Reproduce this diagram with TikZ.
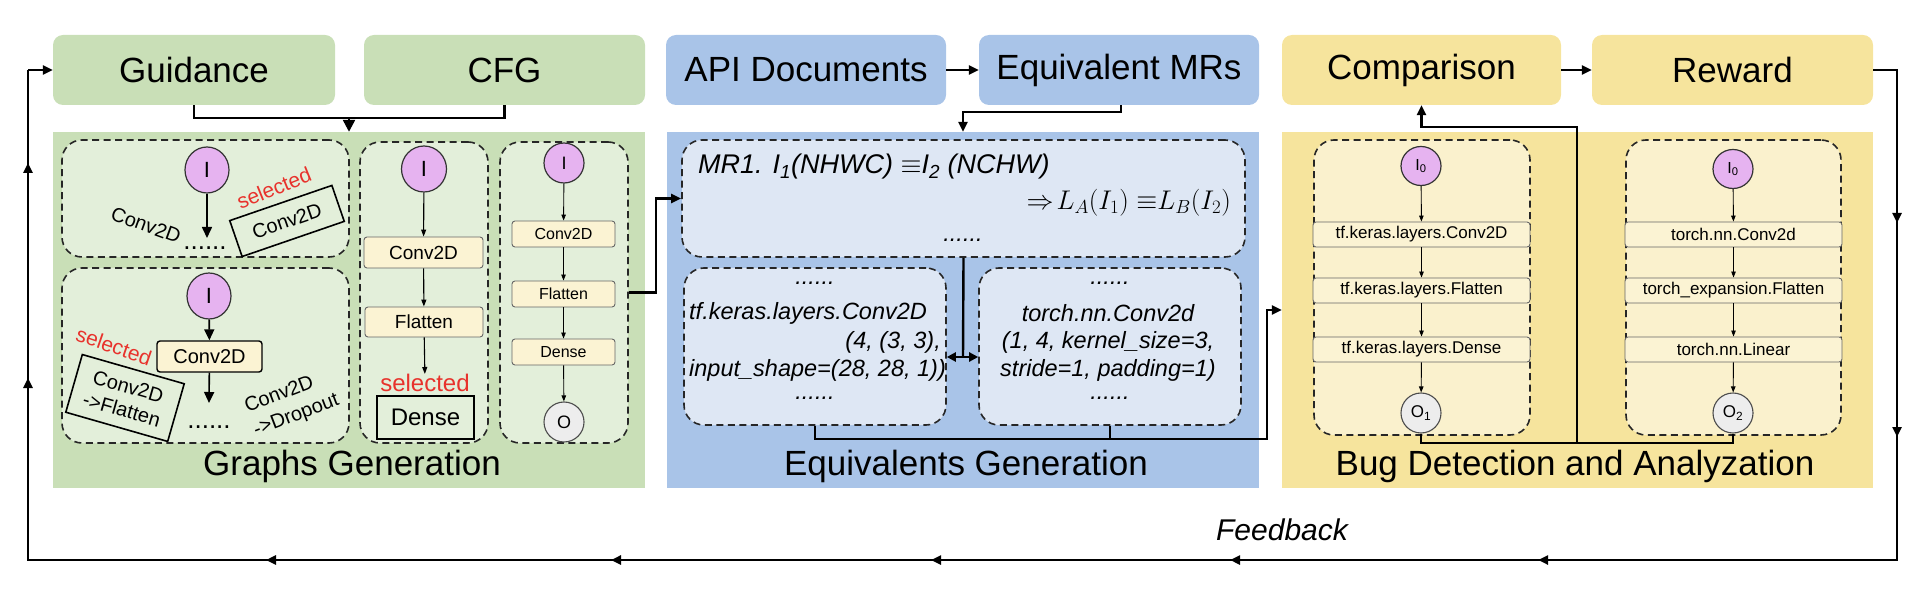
\RequirePackage{fix-cm}
\documentclass[tikz,border=0pt]{standalone}
\usepackage{fontspec}
\setmainfont{Liberation Sans}
\usetikzlibrary{arrows.meta,shapes.geometric}
\definecolor{gbox}{HTML}{C9DFB7}
\definecolor{gin}{HTML}{E3EFDA}
\definecolor{bbox}{HTML}{A9C4E8}
\definecolor{bin}{HTML}{DEE7F4}
\definecolor{ybox}{HTML}{F6E49D}
\definecolor{yin}{HTML}{FAF1CD}
\definecolor{laycol}{HTML}{FBF3D3}
\definecolor{vio}{HTML}{E6B3F0}
\definecolor{ogray}{HTML}{EDEDED}
\definecolor{selred}{HTML}{E8322C}
\newcommand\fsz[2]{\fontsize{#1}{#2}\selectfont}
\begin{document}
\begin{tikzpicture}[x=1pt,y=-1pt,
  topbox/.style={rounded corners=10pt, minimum height=70, inner sep=0, font=\fsz{35}{40}},
  panel/.style={inner sep=0, minimum height=356},
  ptitle/.style={inner sep=0, font=\fsz{35}{40}},
  dbox/.style={draw=black!85, line width=1.6pt, dash pattern=on 7pt off 4.5pt, rounded corners=20pt, inner sep=0},
  lay/.style={draw=black!60, fill=laycol, rounded corners=3pt, line width=0.9pt, inner sep=0},
  layb/.style={draw=black, fill=laycol, rounded corners=3pt, line width=1.4pt, inner sep=0},
  inode/.style={ellipse, draw=black!80, fill=vio, line width=1.2pt, inner sep=0},
  onode/.style={ellipse, draw=black!70, fill=ogray, line width=1.1pt, inner sep=0},
  selbox/.style={draw=black, line width=1.6pt, inner sep=0, font=\fsz{20}{23}},
  seltext/.style={inner sep=0, text=selred, font=\fsz{21}{23}},
  gtext/.style={inner sep=0, font=\fsz{20}{23}},
  dotstext/.style={inner sep=0, font=\fsz{26}{28}},
  codetext/.style={inner sep=0, font=\fsz{23.5}{26}\itshape},
  conn/.style={line width=2.4pt},
  arr/.style={conn, -{Triangle[length=10pt,width=9pt]}},
  garr/.style={line width=1.6pt, -{Triangle[length=11pt,width=10pt]}},
  tarr/.style={line width=1.1pt, -{Triangle[length=7pt,width=5pt]}},
  sarr/.style={line width=0.9pt, -{Triangle[length=6pt,width=4.5pt]}}
]
\useasboundingbox (0,0) rectangle (1929,593);

% ---------- top boxes ----------
\node[topbox, fill=gbox, minimum width=282] (guid) at (194,70) {Guidance};
\node[topbox, fill=gbox, minimum width=281] (cfg) at (504.5,70) {CFG};
\node[topbox, fill=bbox, minimum width=280] (api) at (806,70) {API Documents};
\node[topbox, fill=bbox, minimum width=280] (emr) at (1119,70) {Equivalent MRs};
\node[topbox, fill=ybox, minimum width=279] (comp) at (1421.5,70) {Comparison};
\node[topbox, fill=ybox, minimum width=281] (rew) at (1732.5,70) {Reward};

% ---------- panels ----------
\node[panel, fill=gbox, minimum width=592] (gpanel) at (349,310) {};
\node[panel, fill=bbox, minimum width=592] (bpanel) at (963,310) {};
\node[panel, fill=ybox, minimum width=591] (ypanel) at (1577.5,310) {};
\node[ptitle] (gtitle) at (352,466) {Graphs Generation};
\node[ptitle] (btitle) at (966,466) {Equivalents Generation};
\node[ptitle] (ytitle) at (1575,466) {Bug Detection and Analyzation};

% ---------- graphs generation ----------
\node[dbox, fill=gin, minimum width=287, minimum height=117] (dA) at (205.5,198.5) {};
\node[dbox, fill=gin, minimum width=287, minimum height=175] (dB) at (205.5,355.5) {};
\node[dbox, fill=gin, minimum width=128, minimum height=301] (dC) at (424,292.5) {};
\node[dbox, fill=gin, minimum width=128, minimum height=301] (dD) at (564,292.5) {};

% box A
\node[inode, minimum width=44, minimum height=46, font=\fsz{22}{24}] (iA) at (207,170) {I};
\coordinate (aA) at (207,238);
\draw[garr] (iA) -- (aA);
\node[gtext, rotate=-20] (cA) at (146,225) {Conv2D};
\node[dotstext] (dotA) at (205,248) {......};
\node[selbox, rotate=19, minimum width=108, minimum height=38] (sA) at (287,221) {Conv2D};
\node[seltext, rotate=22] (tA) at (274,188) {selected};

% box B
\node[inode, minimum width=44, minimum height=46, font=\fsz{22}{24}] (iB) at (209,296) {I};
\node[layb, minimum width=105, minimum height=31, font=\fsz{20}{23}] (cB) at (209.5,356.5) {Conv2D};
\draw[garr] (iB) -- (cB);
\coordinate (aB) at (209,403);
\draw[garr] (cB) -- (aB);
\node[seltext, rotate=-19] (tB) at (114,346) {selected};
\node[selbox, rotate=-16, minimum width=106, minimum height=60, align=center, font=\fsz{20}{24}] (sB) at (125,398) {Conv2D\\->Flatten};
\node[dotstext] (dotB) at (209,427) {......};
\node[gtext, rotate=21, align=left, font=\fsz{20}{25}] (dropB) at (292,404) {Conv2D\\->Dropout};

% box C
\node[inode, minimum width=45, minimum height=46, font=\fsz{22}{24}] (iC) at (424,169) {I};
\node[lay, minimum width=119, minimum height=31, font=\fsz{19}{22}] (cC) at (423.5,252.5) {Conv2D};
\node[lay, minimum width=118, minimum height=30, font=\fsz{19}{22}] (fC) at (424,322) {Flatten};
\node[seltext, font=\fsz{24}{26}] (tC) at (425,383) {selected};
\node[selbox, minimum width=97, minimum height=43, font=\fsz{24}{26}] (dnC) at (425.5,417.5) {Dense};
\draw[tarr] (iC) -- (cC);
\draw[tarr] (cC) -- (fC);
\draw[tarr] (fC) -- (tC);

% box D
\node[inode, minimum width=40, minimum height=40, font=\fsz{18}{20}] (iD) at (564,163) {I};
\node[lay, minimum width=103, minimum height=26, font=\fsz{16}{18}] (cD) at (563.5,234) {Conv2D};
\node[lay, minimum width=103, minimum height=26, font=\fsz{16}{18}] (fD) at (563.5,294) {Flatten};
\node[lay, minimum width=103, minimum height=26, font=\fsz{16}{18}] (nD) at (563.5,352) {Dense};
\node[onode, minimum width=40, minimum height=40, font=\fsz{18}{20}] (oD) at (564,422) {O};
\draw[sarr] (iD) -- (cD);
\draw[sarr] (cD) -- (fD);
\draw[sarr] (fD) -- (nD);
\draw[sarr] (nD) -- (oD);

% ---------- equivalents generation ----------
\node[dbox, fill=bin, minimum width=563, minimum height=117] (mr) at (963.5,198.5) {};
\node[inner sep=0, anchor=west, font=\fsz{27}{30}\itshape] (mr1) at (698,167) {MR1. I\textsubscript{1}(NHWC) $\equiv$I\textsubscript{2} (NCHW)};
\node[inner sep=0, anchor=east, font=\fsz{27}{30}] (mr2) at (1231,203) {$\Rightarrow\!L_A(I_1)\;{\equiv}L_B(I_2)$};
\node[codetext] (mrdots) at (963,240) {......};

\node[dbox, fill=bin, minimum width=262, minimum height=157] (dL) at (815,346.5) {};
\node[dbox, fill=bin, minimum width=262, minimum height=157] (dR) at (1110,346.5) {};
\node[codetext] (lt0) at (815,283) {......};
\node[codetext, anchor=west] (lt1) at (689,313) {tf.keras.layers.Conv2D};
\node[codetext, anchor=east] (lt2) at (941,342) {(4, (3, 3),};
\node[codetext, anchor=west] (lt3) at (689,370) {input\_shape=(28, 28, 1))};
\node[codetext] (lt4) at (815,398) {......};
\node[codetext] (rt0) at (1110,283) {......};
\node[codetext] (rt1) at (1108,313) {torch.nn.Conv2d};
\node[codetext] (rt2) at (1108,342) {(1, 4, kernel\_size=3,};
\node[codetext] (rt3) at (1108,370) {stride=1, padding=1)};
\node[codetext] (rt4) at (1110,398) {......};

% ---------- bug detection ----------
\node[dbox, fill=yin, minimum width=216, minimum height=295] (yL) at (1422,287.5) {};
\node[dbox, fill=yin, minimum width=215, minimum height=295] (yR) at (1733.5,287.5) {};
\node[inode, minimum width=40, minimum height=39, font=\fsz{16}{18}] (i0L) at (1421,166) {I\textsubscript{0}};
\node[lay, minimum width=217, minimum height=25, font=\fsz{17}{19}] (l1) at (1421.5,234.5) {tf.keras.layers.Conv2D};
\node[lay, minimum width=217, minimum height=25, font=\fsz{17}{19}] (l2) at (1421.5,290.5) {tf.keras.layers.Flatten};
\node[lay, minimum width=217, minimum height=25, font=\fsz{17}{19}] (l3) at (1421.5,349.5) {tf.keras.layers.Dense};
\node[onode, minimum width=40, minimum height=40, font=\fsz{17}{19}] (o1) at (1421,413) {O\textsubscript{1}};
\node[inode, minimum width=40, minimum height=39, font=\fsz{16}{18}] (i0R) at (1733,169) {I\textsubscript{0}};
\node[lay, minimum width=217, minimum height=25, font=\fsz{17}{19}] (r1) at (1733.5,234.5) {torch.nn.Conv2d};
\node[lay, minimum width=217, minimum height=25, font=\fsz{17}{19}] (r2) at (1733.5,290.5) {torch\_expansion.Flatten};
\node[lay, minimum width=217, minimum height=25, font=\fsz{17}{19}] (r3) at (1733.5,349.5) {torch.nn.Linear};
\node[onode, minimum width=40, minimum height=40, font=\fsz{17}{19}] (o2) at (1733,413) {O\textsubscript{2}};
\draw[sarr] (i0L) -- (l1);
\draw[sarr] (l1) -- (l2);
\draw[sarr] (l2) -- (l3);
\draw[sarr] (l3) -- (o1);
\draw[sarr] (i0R) -- (r1);
\draw[sarr] (r1) -- (r2);
\draw[sarr] (r2) -- (r3);
\draw[sarr] (r3) -- (o2);

% ---------- connectors ----------
\coordinate (gm) at (349,118);
\draw[conn] (guid.south) |- (gm) -| (cfg.south);
\draw[conn, -{Triangle[length=12pt,width=12pt]}] (gm) -- (gpanel.north);

\draw[arr] (dD.east) -- ++(27,0) |- (mr.west);

\draw[arr] (api) -- (emr);
\coordinate (em1) at (1121,112);
\draw[arr] (em1 |- emr.south) -- (em1) -| (bpanel.north);

\coordinate (mrb) at (963,357);
\draw[conn] (mr.south) -- (mrb);
\draw[conn, {Triangle[length=9pt,width=9pt]}-{Triangle[length=9pt,width=9pt]}] (dL.east |- mrb) -- (dR.west |- mrb);

\coordinate (eb) at (815,439);
\coordinate (ec) at (1267,439);
\draw[conn] (dL.south) -- (eb) -| (dR.south);
\draw[arr] (eb) -- (ec) |- (ypanel.west);

\coordinate (ob) at (1421,443);
\coordinate (om) at (1577,443);
\coordinate (ot) at (1577,127);
\draw[conn] (o1.south) -- (ob) -| (o2.south);
\draw[arr] (om) -- (ot) -| (comp.south);

\draw[arr] (comp) -- (rew);

% feedback loop
\coordinate (f1) at (1897,70);
\coordinate (f2) at (1897,560);
\coordinate (f3) at (28,560);
\coordinate (f4) at (28,70);
\draw[conn] (rew.east) -- (f1) -- (f2) -- (f3) -- (f4);
\draw[arr] (f4) -- (guid.west);
\foreach \y in {223,437} \draw[arr] (1897,\y-20) -- (1897,\y);
\foreach \x in {1538,1230,931,611,266} \draw[arr] (\x+20,560) -- (\x,560);
\foreach \y in {378,163} \draw[arr] (28,\y+20) -- (28,\y);
\node[inner sep=0, font=\fsz{30}{32}\itshape] (fb) at (1282,530) {Feedback};
\end{tikzpicture}
\end{document}
